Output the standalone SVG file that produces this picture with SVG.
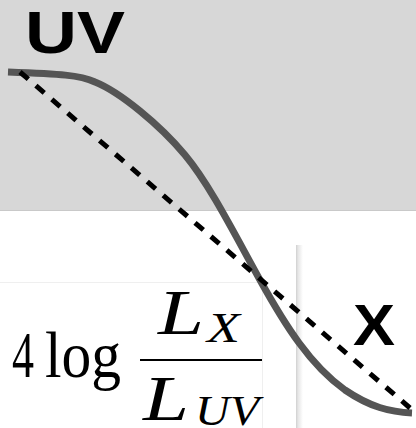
<svg xmlns="http://www.w3.org/2000/svg" width="416" height="428" viewBox="0 0 416 428">
  <defs>
    <linearGradient id="shadow" x1="0" y1="0" x2="1" y2="0">
      <stop offset="0" stop-color="#d0d0d0"/>
      <stop offset="0.3" stop-color="#e6e6e6"/>
      <stop offset="1" stop-color="#ffffff"/>
    </linearGradient>
  </defs>
  <style>
    .label { font-family: "Liberation Sans", Arial, sans-serif; font-weight: bold; fill: #000; }
    .math { font-family: "Liberation Serif", "DejaVu Serif", serif; fill: #000; }
    .it { font-style: italic; }
    .curve { fill: none; stroke: #555555; stroke-width: 7; stroke-linecap: butt; }
    .dashed { fill: none; stroke: #000; stroke-width: 5; stroke-dasharray: 11 10; }
  </style>
  <rect x="0" y="0" width="416" height="428" fill="#ffffff"/>
  <g id="panel-top">
    <rect x="0" y="0" width="416" height="210" fill="#d7d7d7"/>
    <line x1="0" y1="210.5" x2="416" y2="210.5" stroke="#c9c9c9" stroke-width="1"/>
  </g>
  <g id="formula-box">
    <line x1="0" y1="282.5" x2="262" y2="282.5" stroke="#efefef" stroke-width="1"/>
    <line x1="262.5" y1="282" x2="262.5" y2="428" stroke="#efefef" stroke-width="1"/>
    <text class="math" x="12" y="377" font-size="66" textLength="22" lengthAdjust="spacingAndGlyphs">4</text>
    <text class="math" x="45" y="377" font-size="66" textLength="76" lengthAdjust="spacingAndGlyphs">log</text>
    <line x1="140" y1="360" x2="262" y2="360" stroke="#000" stroke-width="2"/>
    <text class="math it" x="158" y="334" font-size="63" textLength="46" lengthAdjust="spacingAndGlyphs">L</text>
    <text class="math it" x="207" y="342" font-size="42" textLength="33" lengthAdjust="spacingAndGlyphs">X</text>
    <text class="math it" x="143" y="420" font-size="63" textLength="46" lengthAdjust="spacingAndGlyphs">L</text>
    <text class="math it" x="195" y="425" font-size="42" textLength="64" lengthAdjust="spacingAndGlyphs">UV</text>
  </g>
  <g id="divider">
    <rect x="296" y="245" width="7" height="183" fill="url(#shadow)"/>
  </g>
  <g id="label-uv">
    <text class="label" x="25" y="53" font-size="60" textLength="100" lengthAdjust="spacingAndGlyphs">UV</text>
  </g>
  <g id="label-x">
    <text class="label" x="353" y="345" font-size="58" textLength="42" lengthAdjust="spacingAndGlyphs">X</text>
  </g>
  <g id="connectors">
    <path class="curve" d="M8,72 C60,74 80,75 95,82 C120,92 160,125 185,155 C210,185 235,235 260,280 C285,325 310,365 345,390 C370,407 390,412 412,413"/>
    <line class="dashed" x1="20" y1="72" x2="410" y2="408"/>
  </g>
</svg>
